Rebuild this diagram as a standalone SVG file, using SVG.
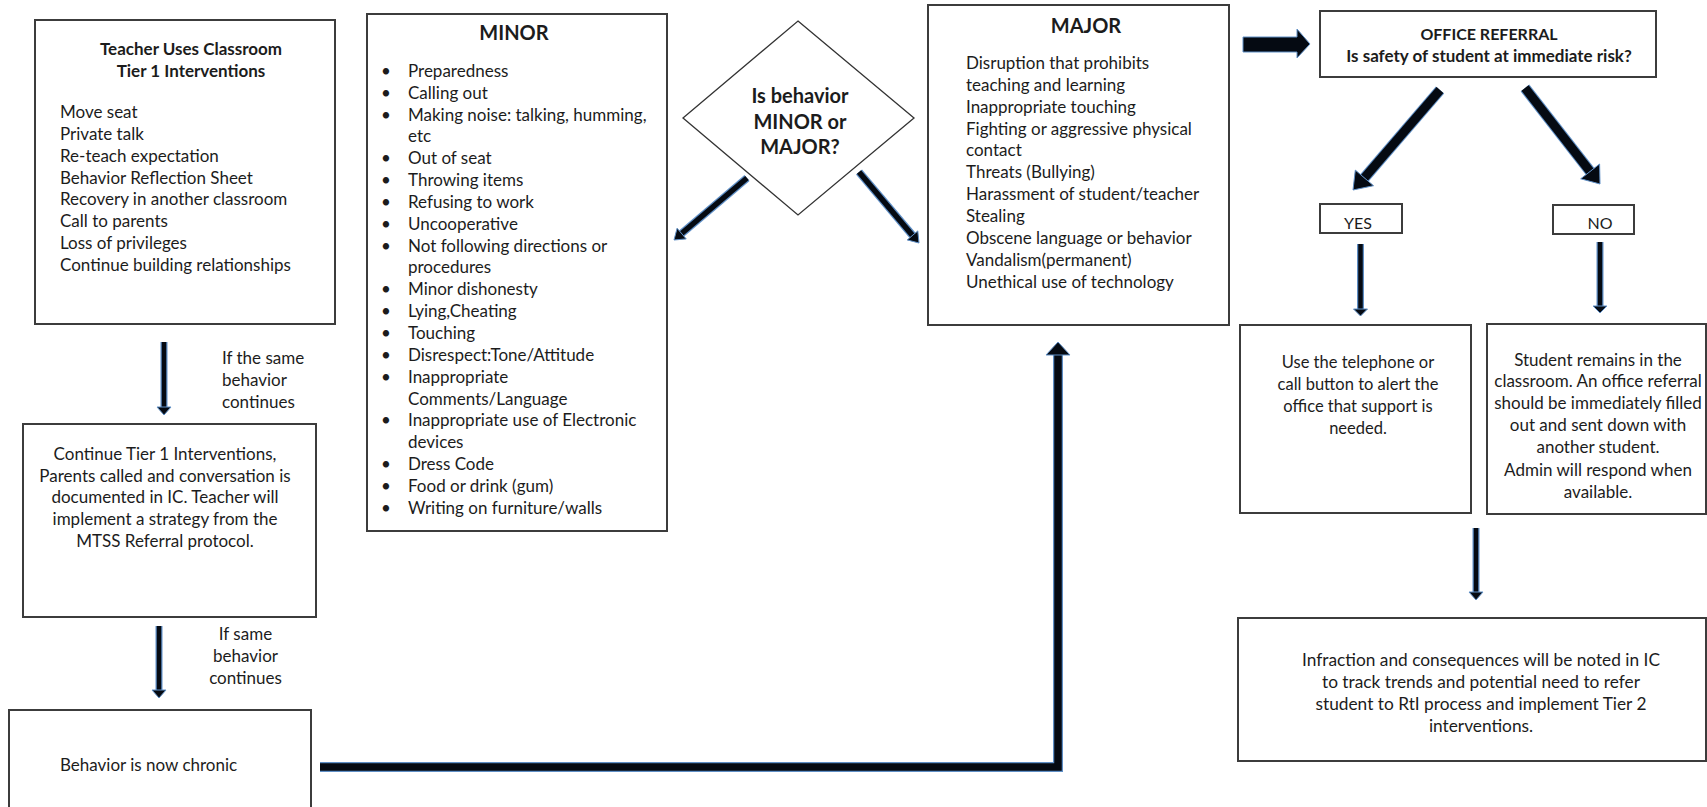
<svg xmlns="http://www.w3.org/2000/svg" width="1707" height="807" viewBox="0 0 1707 807">
<style>
  text { font-family: Lato, "Liberation Sans", sans-serif; fill: #1c1c1c; font-size: 17px; }
  .b { font-weight: bold; }
  .t { font-size: 20px; font-weight: bold; }
  .s16 { font-size: 16px; }
  .s165 { font-size: 16.5px; }
  .s173 { font-size: 17.3px; }
  .c { text-anchor: middle; }
  .box { fill: #fff; stroke: #3c3c3c; stroke-width: 2; }
  .dia { fill: #fff; stroke: #333; stroke-width: 1.3; }
  .glow { fill: none; stroke: #5f8fc6; stroke-linecap: butt; }
  .ln { fill: none; stroke: #050a12; stroke-linecap: butt; }
  .hd { fill: #050a12; stroke: #5f8fc6; stroke-width: 1; }
</style>
<rect width="1707" height="807" fill="#fff"/>

<g id="connectors">
  <!-- left column arrows -->
  <line class="glow" x1="164" y1="342" x2="164" y2="408" stroke-width="7"/>
  <line class="ln" x1="164" y1="342" x2="164" y2="408" stroke-width="4.5"/>
  <polygon class="hd" points="157,407 171,407 164,415"/>
  <line class="glow" x1="159" y1="626" x2="159" y2="691" stroke-width="7"/>
  <line class="ln" x1="159" y1="626" x2="159" y2="691" stroke-width="4.5"/>
  <polygon class="hd" points="152,690 166,690 159,698"/>
  <!-- chronic to major -->
  <path class="glow" d="M320,767 H1058 V354" stroke-width="10"/>
  <path class="ln" d="M320,767 H1058 V354" stroke-width="7.5"/>
  <polygon class="hd" points="1046,355 1070,355 1058,342"/>
  <!-- diamond arrows -->
  <line class="glow" x1="747" y1="178" x2="681.6" y2="233.5" stroke-width="8"/>
  <line class="ln" x1="747" y1="178" x2="681.6" y2="233.5" stroke-width="5.5"/>
  <polygon class="hd" points="686.2,238.9 677.1,228.2 674,240"/>
  <line class="glow" x1="859" y1="172" x2="912.5" y2="235.4" stroke-width="8"/>
  <line class="ln" x1="859" y1="172" x2="912.5" y2="235.4" stroke-width="5.5"/>
  <polygon class="hd" points="907.2,239.9 917.8,230.9 919,243"/>
  <!-- major to office referral -->
  <polygon class="hd" points="1243,37 1297,37 1297,29 1310,44 1297,58 1297,52 1243,52"/>
  <!-- office referral to yes / no -->
  <line class="glow" x1="1440" y1="90" x2="1364.4" y2="177.9" stroke-width="11"/>
  <line class="ln" x1="1440" y1="90" x2="1364.4" y2="177.9" stroke-width="9"/>
  <polygon class="hd" points="1373.5,185.7 1355.3,170.1 1353,190"/>
  <line class="glow" x1="1525" y1="88" x2="1590.1" y2="171.4" stroke-width="11"/>
  <line class="ln" x1="1525" y1="88" x2="1590.1" y2="171.4" stroke-width="9"/>
  <polygon class="hd" points="1580.7,178.8 1599.6,164 1600,184"/>
  <!-- yes / no down -->
  <line class="glow" x1="1360.5" y1="244" x2="1360.5" y2="310" stroke-width="7"/>
  <line class="ln" x1="1360.5" y1="244" x2="1360.5" y2="310" stroke-width="4.5"/>
  <polygon class="hd" points="1353.5,309 1367.5,309 1360.5,316"/>
  <line class="glow" x1="1600" y1="242" x2="1600" y2="307" stroke-width="7"/>
  <line class="ln" x1="1600" y1="242" x2="1600" y2="307" stroke-width="4.5"/>
  <polygon class="hd" points="1593,306 1607,306 1600,313"/>
  <!-- to bottom box -->
  <line class="glow" x1="1476" y1="528" x2="1476" y2="593" stroke-width="7"/>
  <line class="ln" x1="1476" y1="528" x2="1476" y2="593" stroke-width="4.5"/>
  <polygon class="hd" points="1469,592 1483,592 1476,600"/>
</g>

<g id="teacher">
  <rect class="box" x="35" y="20" width="300" height="304"/>
  <text class="b c" x="191" y="55">Teacher Uses Classroom</text>
  <text class="b c" x="191" y="77">Tier 1 Interventions</text>
  <text x="60" y="118">Move seat</text>
  <text x="60" y="140">Private talk</text>
  <text x="60" y="162">Re-teach expectation</text>
  <text x="60" y="184">Behavior Reflection Sheet</text>
  <text x="60" y="205">Recovery in another classroom</text>
  <text x="60" y="227">Call to parents</text>
  <text x="60" y="249">Loss of privileges</text>
  <text x="60" y="271">Continue building relationships</text>
</g>

<g id="label-same">
  <text x="222" y="364">If the same</text>
  <text x="222" y="386">behavior</text>
  <text x="222" y="408">continues</text>
</g>

<g id="continue">
  <rect class="box" x="23" y="424" width="293" height="193"/>
  <text class="c" x="165" y="460">Continue Tier 1 Interventions,</text>
  <text class="c" x="165" y="482">Parents called and conversation is</text>
  <text class="c" x="165" y="503">documented in IC. Teacher will</text>
  <text class="c" x="165" y="525">implement a strategy from the</text>
  <text class="c" x="165" y="547">MTSS Referral protocol.</text>
</g>

<g id="label-same2">
  <text class="c" x="245.5" y="640">If same</text>
  <text class="c" x="245.5" y="662">behavior</text>
  <text class="c" x="245.5" y="684">continues</text>
</g>

<g id="chronic">
  <rect class="box" x="9" y="710" width="302" height="110"/>
  <text x="60" y="771">Behavior is now chronic</text>
</g>

<g id="minor">
  <rect class="box" x="367" y="14" width="300" height="517"/>
  <text class="t c" x="514" y="40">MINOR</text>
  <g>
    <text x="381" y="77">•</text><text x="408" y="77">Preparedness</text>
    <text x="381" y="99">•</text><text x="408" y="99">Calling out</text>
    <text x="381" y="121">•</text><text x="408" y="121">Making noise: talking, humming,</text>
    <text x="408" y="142">etc</text>
    <text x="381" y="164">•</text><text x="408" y="164">Out of seat</text>
    <text x="381" y="186">•</text><text x="408" y="186">Throwing items</text>
    <text x="381" y="208">•</text><text x="408" y="208">Refusing to work</text>
    <text x="381" y="230">•</text><text x="408" y="230">Uncooperative</text>
    <text x="381" y="252">•</text><text x="408" y="252">Not following directions or</text>
    <text x="408" y="273">procedures</text>
    <text x="381" y="295">•</text><text x="408" y="295">Minor dishonesty</text>
    <text x="381" y="317">•</text><text x="408" y="317">Lying,Cheating</text>
    <text x="381" y="339">•</text><text x="408" y="339">Touching</text>
    <text x="381" y="361">•</text><text x="408" y="361">Disrespect:Tone/Attitude</text>
    <text x="381" y="383">•</text><text x="408" y="383">Inappropriate</text>
    <text x="408" y="405">Comments/Language</text>
    <text x="381" y="426">•</text><text x="408" y="426">Inappropriate use of Electronic</text>
    <text x="408" y="448">devices</text>
    <text x="381" y="470">•</text><text x="408" y="470">Dress Code</text>
    <text x="381" y="492">•</text><text x="408" y="492">Food or drink (gum)</text>
    <text x="381" y="514">•</text><text x="408" y="514">Writing on furniture/walls</text>
  </g>
</g>

<g id="decision">
  <polygon class="dia" points="798,21 914,118 798,215 683,118"/>
  <text class="t c" x="800" y="103">Is behavior</text>
  <text class="t c" x="800" y="129">MINOR or</text>
  <text class="t c" x="800" y="154">MAJOR?</text>
</g>

<g id="major">
  <rect class="box" x="928" y="5" width="301" height="320"/>
  <text class="t c" x="1086" y="33">MAJOR</text>
  <text x="966" y="69">Disruption that prohibits</text>
  <text x="966" y="91">teaching and learning</text>
  <text x="966" y="113">Inappropriate touching</text>
  <text x="966" y="135">Fighting or aggressive physical</text>
  <text x="966" y="156">contact</text>
  <text x="966" y="178">Threats (Bullying)</text>
  <text x="966" y="200">Harassment of student/teacher</text>
  <text x="966" y="222">Stealing</text>
  <text x="966" y="244">Obscene language or behavior</text>
  <text x="966" y="266">Vandalism(permanent)</text>
  <text x="966" y="288">Unethical use of technology</text>
</g>

<g id="office">
  <rect class="box" x="1320" y="11" width="336" height="66"/>
  <text class="b c s16" x="1489" y="40">OFFICE REFERRAL</text>
  <text class="b c" x="1489" y="62">Is safety of student at immediate risk?</text>
</g>

<g id="yes">
  <rect class="box" x="1320" y="204" width="82" height="29"/>
  <text class="c s16" x="1358" y="229">YES</text>
</g>

<g id="no">
  <rect class="box" x="1553" y="205" width="81" height="29"/>
  <text class="c s16" x="1600" y="229">NO</text>
</g>

<g id="yes-result">
  <rect class="box" x="1240" y="325" width="231" height="188"/>
  <text class="c s165" x="1358" y="368">Use the telephone or</text>
  <text class="c s165" x="1358" y="390">call button to alert the</text>
  <text class="c s165" x="1358" y="412">office that support is</text>
  <text class="c s165" x="1358" y="434">needed.</text>
</g>

<g id="no-result">
  <rect class="box" x="1487" y="324" width="219" height="190"/>
  <text class="c" x="1598" y="366">Student remains in the</text>
  <text class="c" x="1598" y="387">classroom. An office referral</text>
  <text class="c" x="1598" y="409">should be immediately filled</text>
  <text class="c" x="1598" y="431">out and sent down with</text>
  <text class="c" x="1598" y="453">another student.</text>
  <text class="c" x="1598" y="476">Admin will respond when</text>
  <text class="c" x="1598" y="498">available.</text>
</g>

<g id="record">
  <rect class="box" x="1238" y="618" width="468" height="143"/>
  <text class="c s173" x="1481" y="666">Infraction and consequences will be noted in IC</text>
  <text class="c s173" x="1481" y="688">to track trends and potential need to refer</text>
  <text class="c s173" x="1481" y="710">student to RtI process and implement Tier 2</text>
  <text class="c s173" x="1481" y="732">interventions.</text>
</g>
</svg>
